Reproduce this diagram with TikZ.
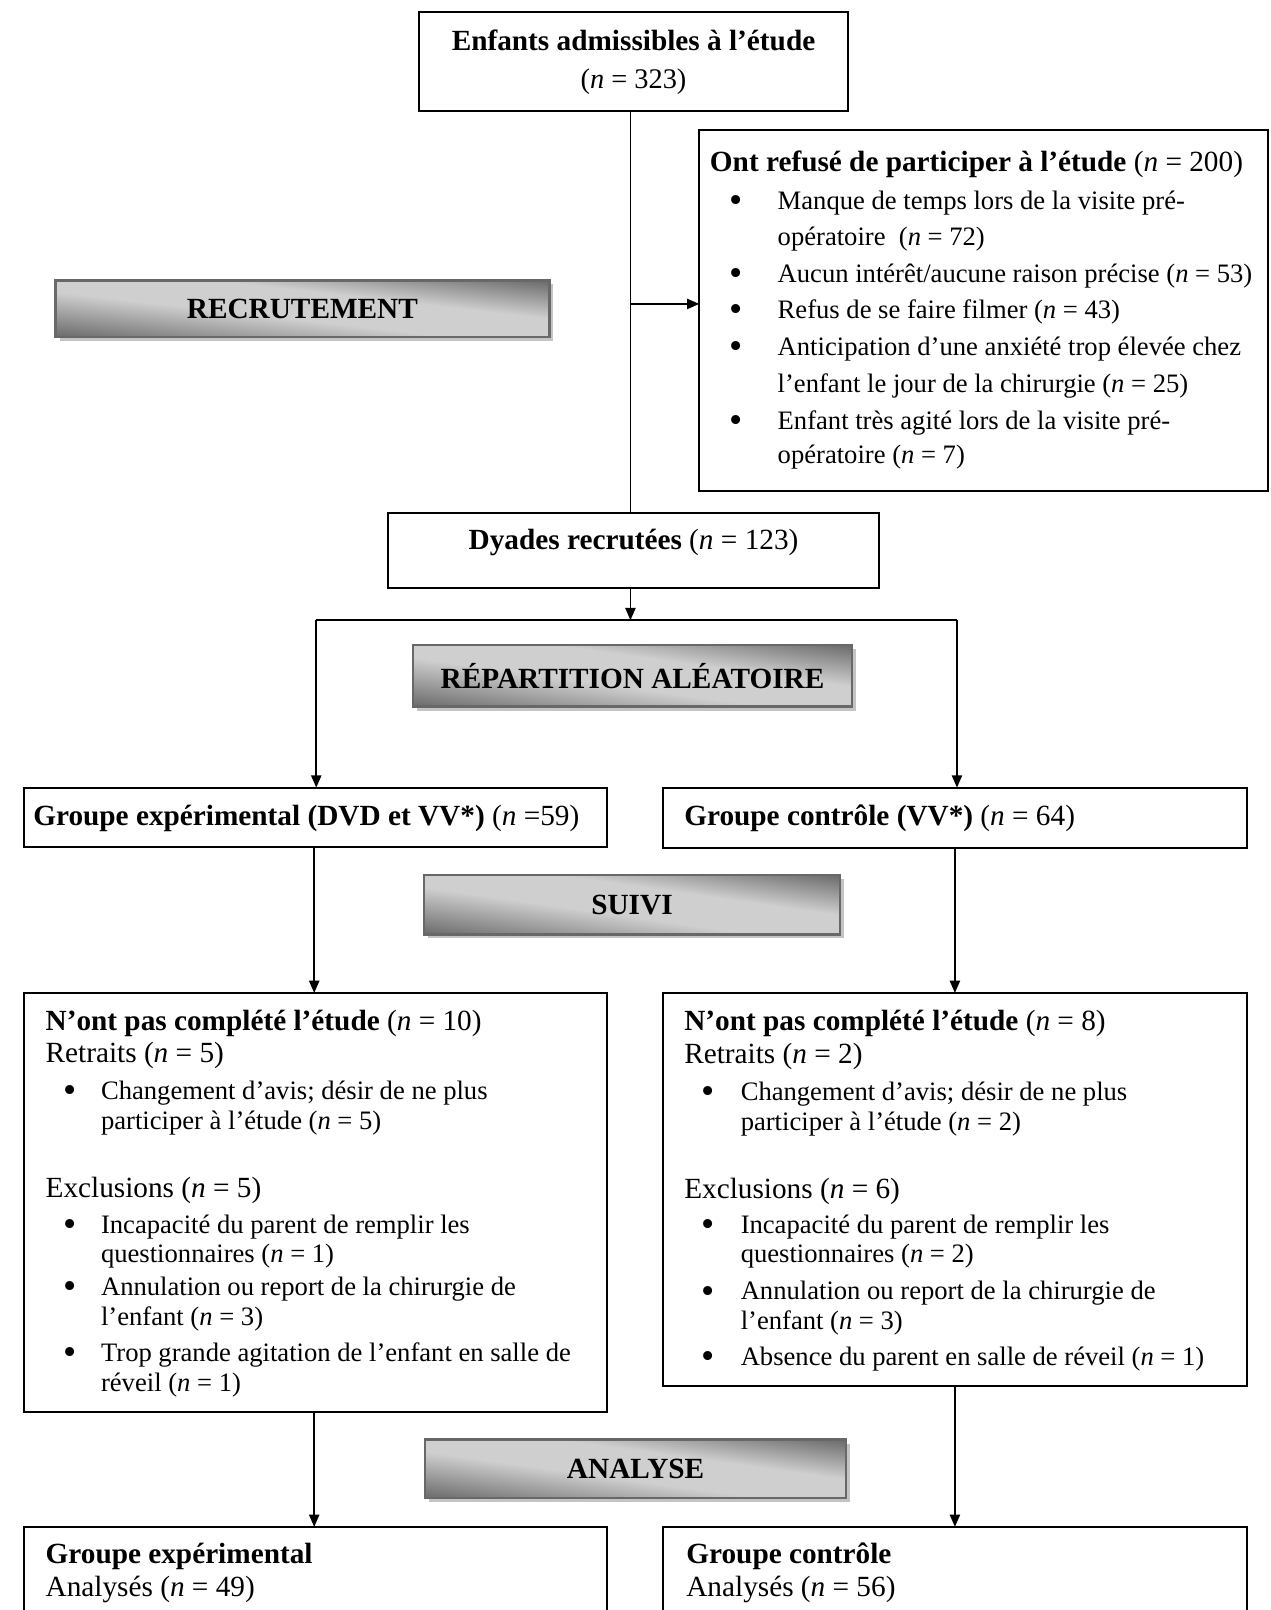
\documentclass[tikz,border=0pt]{standalone}
\usepackage{fontspec}
\setmainfont{Liberation Serif}
\usetikzlibrary{arrows.meta}
\newcommand\upx{0.463pt}
\definecolor{stagedark}{HTML}{6A6A6A}
\definecolor{stagelight}{HTML}{CFCFCF}
\definecolor{stageborder}{HTML}{686868}
\definecolor{stageshadow}{HTML}{C4C4C4}
\pgfdeclarehorizontalshading{stageshade}{100bp}{color(0bp)=(stagedark); color(25bp)=(stagedark); color(45bp)=(stagelight); color(58bp)=(stagelight); color(75bp)=(stagedark); color(100bp)=(stagedark)}
\tikzset{
  box/.style={draw=black, line width=0.9pt, anchor=north west, inner sep=0pt, outer sep=0pt, fill=white},
  stageframe/.style={draw=stageborder, line width=1.1pt, anchor=north west, inner sep=0pt, outer sep=0pt},
  stagetxt/.style={font=\bfseries\fontsize{13.2}{15}\selectfont, inner sep=0pt},
  txt/.style={anchor=base west, inner sep=0pt, font=\fontsize{12}{14}\selectfont},
  btxt/.style={anchor=base west, inner sep=0pt, font=\fontsize{13.2}{15}\selectfont},
  cbtxt/.style={anchor=base, inner sep=0pt, font=\fontsize{13.2}{15}\selectfont},
  bul/.style={anchor=base, inner sep=0pt, font=\fontsize{17}{17}\selectfont},
  conn/.style={line width=0.75pt},
  arr/.style={line width=0.75pt, -{Triangle[length=5.5pt, width=4.6pt]}},
}
\newcommand\mkbox[6]{\node[#6, minimum width={(#4-#2)*\upx}, minimum height={(#5-#3)*\upx}] (#1) at (#2,#3) {};}
\newcommand\tl[4]{\node[txt] (#1) at (#2,#3) {#4};}
\newcommand\hl[4]{\node[btxt] (#1) at (#2,#3) {#4};}
\newcommand\bl[3]{\node[bul] (#1) at (#2,#3+3) {\textbullet};}
\newcommand\nn{\textit{n}}
\newcommand\stagebox[6]{%
  \pgfmathsetmacro\sbW{(#4-#2)*0.463}%
  \pgfmathsetmacro\sbH{(#5-#3)*0.463}%
  \fill[stageshadow] (#2+4,#3+4) rectangle (#4+4,#5+4);
  \begin{scope}
    \clip (#2,#3) rectangle (#4,#5);
    \shade[shading=stageshade, transform canvas={cm={\sbW,\sbH,\sbW,-\sbH,({(#2+#4)/2},{(#3+#5)/2})}}] (-0.5pt,-0.5pt) rectangle (0.5pt,0.5pt);
  \end{scope}
  \mkbox{#1}{#2}{#3}{#4}{#5}{stageframe}
  \node[stagetxt] (#1t) at (#1.center) {#6};
}
\begin{document}
\begin{tikzpicture}[x=\upx, y={(0pt,-0.463pt)}]
\useasboundingbox (0,0) rectangle (1237,1568);
\clip (0,0) rectangle (1237,1568);
\fill[white] (0,0) rectangle (1237,1568);

% boxes
\mkbox{top}{408}{12}{826}{108}{box}
\mkbox{ref}{681}{127}{1235}{478}{box}
\mkbox{dy}{378}{500}{856}{573}{box}
\mkbox{gl}{23}{767}{591}{825}{box}
\mkbox{gr}{646}{767}{1214}{826}{box}
\mkbox{nl}{23}{967}{591}{1375}{box}
\mkbox{nr}{646}{967}{1214}{1350}{box}
\mkbox{al}{23}{1487}{591}{1610}{box}
\mkbox{ar}{646}{1487}{1214}{1610}{box}

% stage boxes
\stagebox{srec}{54}{273}{535}{328}{RECRUTEMENT}
\stagebox{srep}{402}{628}{830}{688}{RÉPARTITION ALÉATOIRE}
\stagebox{ssui}{413}{852}{818}{910}{SUIVI}
\stagebox{sana}{414}{1402}{824}{1459}{ANALYSE}

% top box text
\node[cbtxt] (t1) at (617,49) {\textbf{Enfants admissibles à l’étude}};
\node[cbtxt, font=\fontsize{12.8}{15}\selectfont] (t2) at (617,86) {(\nn{} = 323)};

% refused box
\hl{r0}{691}{167}{\textbf{Ont refusé de participer à l’étude} (\nn{} = 200)}
\bl{rb1}{717}{204}
\tl{r1}{757}{204}{Manque de temps lors de la visite pré-}
\tl{r2}{757}{239}{opératoire\ \ (\nn{} = 72)}
\bl{rb2}{717}{275}
\tl{r3}{757}{275}{Aucun intérêt/aucune raison précise (\nn{} = 53)}
\bl{rb3}{717}{310}
\tl{r4}{757}{310}{Refus de se faire filmer (\nn{} = 43)}
\bl{rb4}{717}{346}
\tl{r5}{757}{346}{Anticipation d’une anxiété trop élevée chez}
\tl{r6}{757}{382}{l’enfant le jour de la chirurgie (\nn{} = 25)}
\bl{rb5}{717}{418}
\tl{r7}{757}{418}{Enfant très agité lors de la visite pré-}
\tl{r8}{757}{451}{opératoire (\nn{} = 7)}

% dyades
\node[cbtxt] (d1) at (617,535) {\textbf{Dyades recrutées} (\nn{} = 123)};

% groups
\hl{g1}{32}{804}{\textbf{Groupe expérimental (DVD et VV*)} (\nn{} =59)}
\hl{g2}{666}{804}{\textbf{Groupe contrôle (VV*)} (\nn{} = 64)}

% left not completed
\hl{l0}{44}{1004}{\textbf{N’ont pas complété l’étude} (\nn{} = 10)}
\hl{l1}{44}{1035}{Retraits (\nn{} = 5)}
\bl{lb1}{68}{1071}
\tl{l2}{98}{1071}{Changement d’avis; désir de ne plus}
\tl{l3}{98}{1100}{participer à l’étude (\nn{} = 5)}
\hl{l4}{44}{1166}{Exclusions (\nn{} = 5)}
\bl{lb2}{68}{1201}
\tl{l5}{98}{1201}{Incapacité du parent de remplir les}
\tl{l6}{98}{1230}{questionnaires (\nn{} = 1)}
\bl{lb3}{68}{1262}
\tl{l7}{98}{1262}{Annulation ou report de la chirurgie de}
\tl{l8}{98}{1291}{l’enfant (\nn{} = 3)}
\bl{lb4}{68}{1326}
\tl{l9}{98}{1326}{Trop grande agitation de l’enfant en salle de}
\tl{l10}{98}{1355}{réveil (\nn{} = 1)}

% right not completed
\hl{q0}{666}{1004}{\textbf{N’ont pas complété l’étude} (\nn{} = 8)}
\hl{q1}{666}{1036}{Retraits (\nn{} = 2)}
\bl{qb1}{690}{1072}
\tl{q2}{721}{1072}{Changement d’avis; désir de ne plus}
\tl{q3}{721}{1101}{participer à l’étude (\nn{} = 2)}
\hl{q4}{666}{1167}{Exclusions (\nn{} = 6)}
\bl{qb2}{690}{1201}
\tl{q5}{721}{1201}{Incapacité du parent de remplir les}
\tl{q6}{721}{1230}{questionnaires (\nn{} = 2)}
\bl{qb3}{690}{1266}
\tl{q7}{721}{1266}{Annulation ou report de la chirurgie de}
\tl{q8}{721}{1295}{l’enfant (\nn{} = 3)}
\bl{qb4}{690}{1330}
\tl{q9}{721}{1330}{Absence du parent en salle de réveil (\nn{} = 1)}

% analysed
\hl{a1}{44}{1523}{\textbf{Groupe expérimental}}
\hl{a2}{44}{1555}{Analysés (\nn{} = 49)}
\hl{b1}{668}{1523}{\textbf{Groupe contrôle}}
\hl{b2}{668}{1555}{Analysés (\nn{} = 56)}

% connectors
\coordinate (mx) at (614,0);
\coordinate (j1) at (614,296);
\coordinate (sp) at (614,604);
\coordinate (spL) at (308,604);
\coordinate (spR) at (932,604);
\coordinate (cL) at (306,0);
\coordinate (cR) at (930,0);
\draw[conn] (top.south -| mx) -- (dy.north -| mx);
\draw[arr] (j1) -- (j1 -| ref.west);
\draw[arr] (dy.south -| sp) -- (sp);
\draw[conn] (spL) -- (spR);
\draw[arr] (spL) -- (spL |- gl.north);
\draw[arr] (spR) -- (spR |- gr.north);
\draw[arr] (gl.south -| cL) -- (nl.north -| cL);
\draw[arr] (gr.south -| cR) -- (nr.north -| cR);
\draw[arr] (nl.south -| cL) -- (al.north -| cL);
\draw[arr] (nr.south -| cR) -- (ar.north -| cR);
\end{tikzpicture}
\end{document}
